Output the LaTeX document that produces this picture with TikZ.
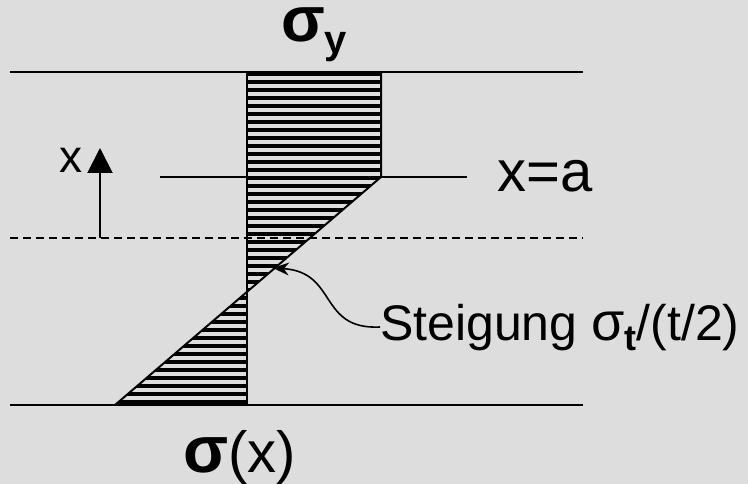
\documentclass[tikz,border=0pt]{standalone}
\usepackage{fontspec}
\setmainfont{Liberation Sans}
\usetikzlibrary{arrows.meta}
\definecolor{bg}{HTML}{DDDDDD}
\tikzset{
  base/.style={line width=2pt, black},
  dash line/.style={line width=1.6pt, dash pattern=on 8pt off 5pt},
  hatchline/.style={line width=4.8pt, black},
  lbl/.style={inner sep=0pt, anchor=base west},
}
\begin{document}
\begin{tikzpicture}[x=1pt,y=-1pt]
\fill[bg] (0,0) rectangle (748,484);
\useasboundingbox (0,0) rectangle (748,484);
% coordinates
\coordinate (tl) at (10,72);
\coordinate (tr) at (583,72);
\coordinate (al) at (160,177);
\coordinate (ar) at (467,177);
\coordinate (dl) at (10,238);
\coordinate (dr) at (583,238);
\coordinate (bl) at (10,405);
\coordinate (br) at (583,405);
\coordinate (r1) at (247,72);
\coordinate (r2) at (381,72);
\coordinate (r3) at (381,177);
\coordinate (r4) at (247,177);
\coordinate (c) at (247,292);
\coordinate (q1) at (115,405);
\coordinate (q2) at (247,405);
% hatching
\begin{scope}
  \clip (r1) -- (r2) -- (r3) -- (c) -- (q1) -- (q2) -- cycle;
  \foreach \k in {0,...,42} {
    \draw[hatchline] (100,74+8*\k) -- (400,74+8*\k);
  }
\end{scope}
% outlines
\draw[base] (r2) -- (r3) -- (q1);
\draw[base] (r1) -- (q2);
% horizontal lines
\draw[base] (tl) -- (tr);
\draw[base] (al) -- (ar);
\draw[dash line] (dl) -- (dr);
\draw[base] (bl) -- (br);
% x arrow
\coordinate (xs) at (100,238);
\coordinate (xe) at (100,148);
\draw[base, -{Triangle[length=25pt,width=25pt]}] (xs) -- (xe);
% labels
\node[lbl, text height=32pt] (sy) at (281,42) {\fontsize{64}{60}\selectfont\textbf{σ}\raisebox{-12pt}{\fontsize{40}{42}\selectfont\textbf{y}}};
\node[lbl] (xa) at (497,192) {\fontsize{58}{60}\selectfont x=a};
\node[lbl] (xl) at (59,173) {\fontsize{46}{48}\selectfont x};
\node[lbl] (st) at (380,340) {\fontsize{50}{54}\selectfont Steigung {\fontsize{54}{54}\selectfont σ}\raisebox{-10pt}{\fontsize{36}{38}\selectfont\textbf{t}}/(t/2)};
\node[lbl, text depth=10pt] (sx) at (183,472) {\fontsize{58}{60}\selectfont{\fontsize{66}{60}\selectfont\textbf{σ}}(x)};
% curved arrow
\coordinate (tip) at (273,268);
\draw[line width=1.6pt, -{Stealth[length=16pt,width=13pt]}] (st.west |- 0,327) .. controls (318,330) and (338,272) .. (tip);
\end{tikzpicture}
\end{document}
